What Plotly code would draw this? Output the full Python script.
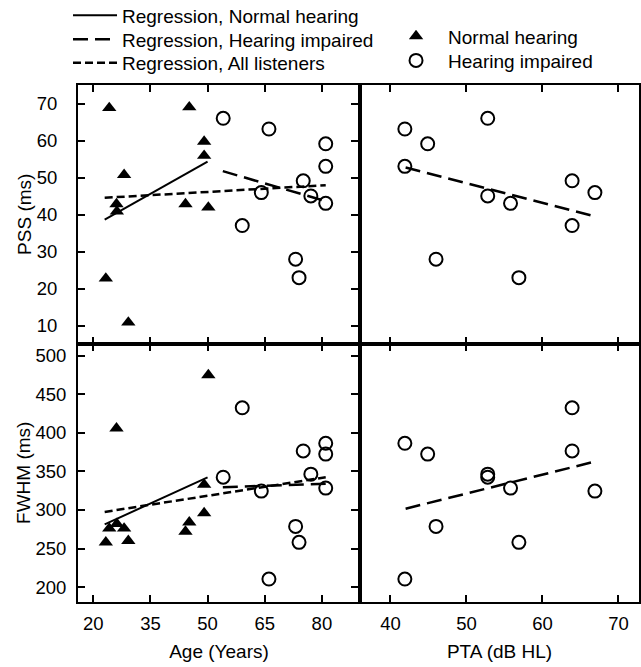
import plotly.graph_objects as go

# ---------------- data ----------------
# Normal-hearing listeners
nh_age = [23.3, 24.2, 26.1, 26.2, 28.1, 29.2, 44.2, 45.2, 49.1, 49.1, 50.2]
nh_pss = [22.8, 68.9, 42.9, 40.9, 50.8, 10.9, 42.9, 69.1, 59.8, 56.0, 42.0]
nh_fwhm = [258, 276, 406, 282, 276, 260, 272, 284, 333, 296, 475]

# Hearing-impaired listeners
hi_age = [54.1, 66.1, 81.0, 81.0, 75.1, 64.1, 77.1, 81.0, 59.1, 73.1, 74.0]
hi_pta = [52.8, 41.9, 44.9, 41.9, 63.9, 66.9, 52.8, 55.8, 63.9, 46.0, 56.9]
hi_pss = [66.1, 63.2, 59.2, 53.1, 49.2, 46.0, 45.1, 43.1, 37.1, 28.0, 23.0]
hi_fwhm = [342.5, 210.4, 372.5, 386.5, 376.6, 324.5, 346.5, 328.4, 432.6, 278.7, 258.0]

# Regression line end points
reg_nh_age = [23, 50]
reg_nh_pss = [38.7, 54.4]
reg_nh_fwhm = [281.3, 342.4]
reg_hi_age = [54, 81]
reg_hi_pss = [51.8, 43.7]
reg_hi_fwhm = [329.5, 334.0]
reg_all_age = [23, 81]
reg_all_pss = [44.6, 48.0]
reg_all_fwhm = [297.5, 342.5]
reg_pta = [42, 67]
reg_pta_pss = [52.8, 39.5]
reg_pta_fwhm = [301.7, 363.0]

age_ticks = [20, 35, 50, 65, 80]
pta_ticks = [40, 50, 60, 70]
pss_ticks = [10, 20, 30, 40, 50, 60, 70]
fwhm_ticks = [200, 250, 300, 350, 400, 450, 500]

# ---------------- styles ----------------
FONT = "Liberation Sans, Arial, sans-serif"
FS = 18.5
LFS = 19
BLACK = "#000000"
LONG_DASH = "15px,7px"
SHORT_DASH = "8px,4px"
TRI = dict(symbol="triangle-up", size=12.5, color=BLACK, line=dict(width=0))
CIRC = dict(symbol="circle-open", size=13, color=BLACK, line=dict(width=2, color=BLACK))

fig = go.Figure()


def scat(x, y, xa, ya, **kw):
    fig.add_trace(go.Scatter(x=x, y=y, xaxis=xa, yaxis=ya, **kw))


# top-left: PSS vs Age
scat(reg_nh_age, reg_nh_pss, "x3", "y2", mode="lines", line=dict(color=BLACK, width=2),
     name="Regression, Normal hearing", legend="legend", showlegend=True)
scat(reg_hi_age, reg_hi_pss, "x3", "y2", mode="lines",
     line=dict(color=BLACK, width=2.5, dash=LONG_DASH),
     name="Regression, Hearing impaired", legend="legend3", showlegend=True)
scat(reg_all_age, reg_all_pss, "x3", "y2", mode="lines",
     line=dict(color=BLACK, width=2.5, dash=SHORT_DASH),
     name="Regression, All listeners", legend="legend4", showlegend=True)
scat(nh_age, nh_pss, "x3", "y2", mode="markers", marker=TRI,
     name="Normal hearing", legend="legend2", showlegend=True)
scat(hi_age, hi_pss, "x3", "y2", mode="markers", marker=CIRC,
     name="Hearing impaired", legend="legend5", showlegend=True)

# top-right: PSS vs PTA
scat(reg_pta, reg_pta_pss, "x4", "y2", mode="lines",
     line=dict(color=BLACK, width=2.5, dash=LONG_DASH), showlegend=False)
scat(hi_pta, hi_pss, "x4", "y2", mode="markers", marker=CIRC, showlegend=False)

# bottom-left: FWHM vs Age
scat(reg_nh_age, reg_nh_fwhm, "x", "y", mode="lines", line=dict(color=BLACK, width=2), showlegend=False)
scat(reg_hi_age, reg_hi_fwhm, "x", "y", mode="lines",
     line=dict(color=BLACK, width=2.5, dash=LONG_DASH), showlegend=False)
scat(reg_all_age, reg_all_fwhm, "x", "y", mode="lines",
     line=dict(color=BLACK, width=2.5, dash=SHORT_DASH), showlegend=False)
scat(nh_age, nh_fwhm, "x", "y", mode="markers", marker=TRI, showlegend=False)
scat(hi_age, hi_fwhm, "x", "y", mode="markers", marker=CIRC, showlegend=False)

# bottom-right: FWHM vs PTA
scat(reg_pta, reg_pta_fwhm, "x2", "y", mode="lines",
     line=dict(color=BLACK, width=2.5, dash=LONG_DASH), showlegend=False)
scat(hi_pta, hi_fwhm, "x2", "y", mode="markers", marker=CIRC, showlegend=False)

XS = 0.5027
common = dict(showline=True, linewidth=2, linecolor=BLACK, mirror="allticks",
              ticks="inside", ticklen=7, tickwidth=1.5, tickcolor=BLACK,
              showgrid=False, zeroline=False, automargin=False,
              tickfont=dict(family=FONT, size=FS, color=BLACK))
title_font = dict(family=FONT, size=FS + 0.5, color=BLACK)


def leg(x, y, itemwidth):
    return dict(x=x, y=y, xanchor="left", yanchor="middle", bgcolor="rgba(0,0,0,0)",
                itemwidth=itemwidth, font=dict(family=FONT, size=LFS, color=BLACK))


LX1 = -0.0178
LX2 = 0.5455

fig.update_layout(
    width=641, height=667,
    margin=dict(l=78, r=2, t=85, b=65, autoexpand=False),
    paper_bgcolor="white", plot_bgcolor="white",
    font=dict(family=FONT, size=FS, color=BLACK),
    xaxis=dict(common, domain=[0, XS], anchor="y", range=[16, 90], tickvals=age_ticks,
               ticklabelstandoff=4,
               title=dict(text="Age (Years)", font=title_font, standoff=11)),
    xaxis2=dict(common, domain=[XS, 1], anchor="y", range=[36, 72.7], tickvals=pta_ticks,
                ticklabelstandoff=4,
                title=dict(text="PTA (dB HL)", font=title_font, standoff=11)),
    xaxis3=dict(common, domain=[0, XS], anchor="y2", range=[16, 90], tickvals=age_ticks,
                showticklabels=False),
    xaxis4=dict(common, domain=[XS, 1], anchor="y2", range=[36, 72.7], tickvals=pta_ticks,
                showticklabels=False),
    yaxis=dict(common, domain=[0, 0.5], anchor="x", range=[180.6, 516], tickvals=fwhm_ticks,
               ticklabelstandoff=6,
               title=dict(text="FWHM (ms)", font=title_font, standoff=0)),
    yaxis2=dict(common, domain=[0.5, 1], anchor="x3", range=[5.2, 75.1], tickvals=pss_ticks,
                ticklabelstandoff=15,
                title=dict(text="PSS (ms)", font=title_font, standoff=0)),
    legend=leg(LX1, 1.1344, 44),
    legend3=leg(LX1, 1.0880, 44),
    legend4=leg(LX1, 1.0429, 44),
    legend2=leg(LX2, 1.0943, 54),
    legend5=leg(LX2, 1.0473, 54),
)

fig.write_html("out.html", config={"displayModeBar": False},
               post_script="document.body.style.margin='0px';")
